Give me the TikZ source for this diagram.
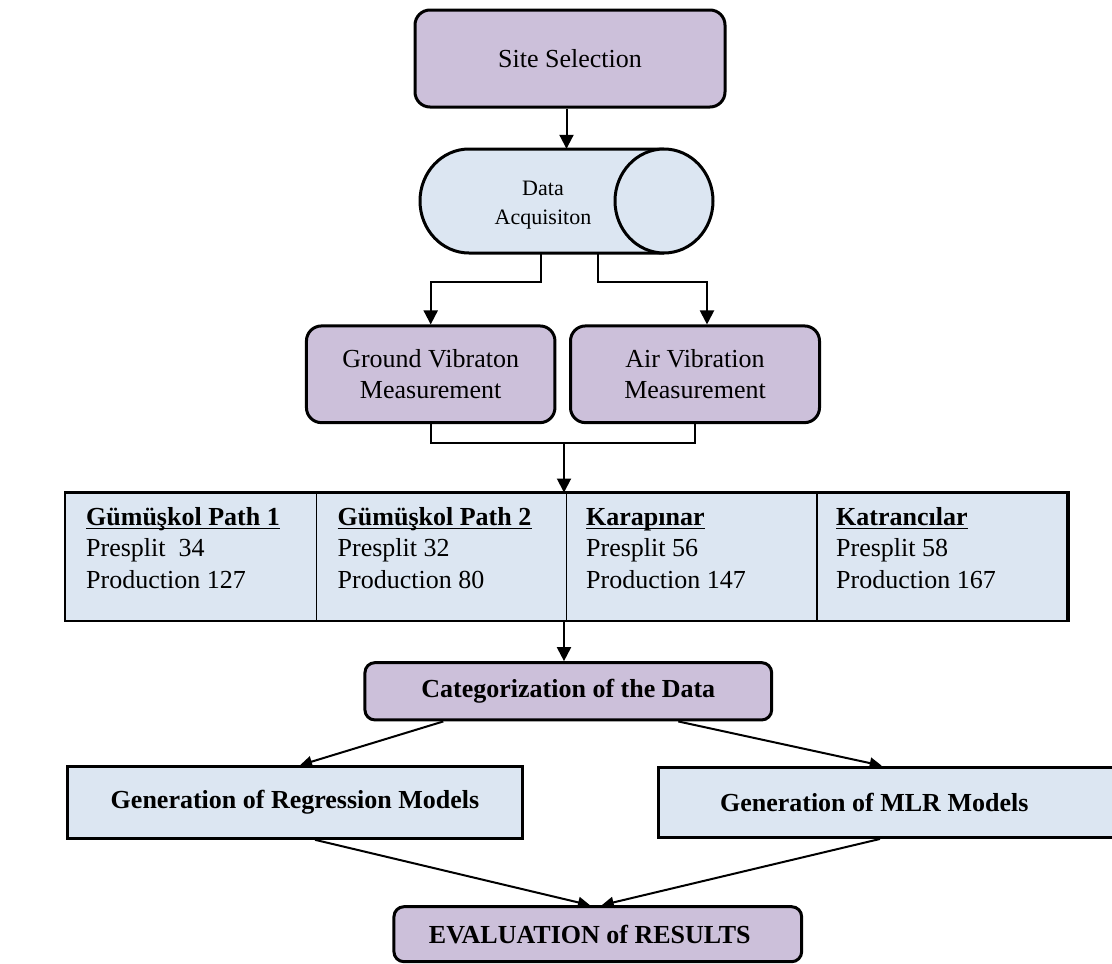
\documentclass[tikz,border=0pt]{standalone}
\usepackage{fontspec}
\setmainfont{Liberation Serif}
\usetikzlibrary{arrows.meta,calc}
\definecolor{lav}{HTML}{CCC0DA}
\definecolor{lblue}{HTML}{DCE6F2}
\tikzset{
  boxbase/.style={draw=black, line width=3pt, inner sep=0pt, align=center, font=\fontsize{26}{31}\selectfont},
  purplebox/.style={boxbase, fill=lav, rounded corners=15pt},
  purplesmall/.style={boxbase, fill=lav, rounded corners=10pt, font=\fontsize{26}{31}\selectfont\bfseries},
  bluebox/.style={boxbase, fill=lblue, font=\fontsize{26}{31}\selectfont\bfseries},
  conn/.style={line width=2pt, -{Triangle[length=14pt,width=14pt]}},
  connd/.style={line width=2pt, -{Triangle[length=12pt,width=11pt]}},
  plainline/.style={line width=2pt},
  cell/.style={anchor=base west, inner sep=0pt, font=\fontsize{26}{31}\selectfont},
  cellhead/.style={cell, font=\fontsize{26}{31}\selectfont\bfseries},
}
\begin{document}
\begin{tikzpicture}[x=1pt,y=-1pt]
\clip (0,0) rectangle (1112,964);
\fill[white] (0,0) rectangle (1112,964);

% Site selection
\node[purplebox, minimum width=310pt, minimum height=97pt] (site) at (570,58.5) {Site Selection};

% Data acquisition cylinder
\node[inner sep=0pt, minimum width=293pt, minimum height=104pt] (acq) at (566.5,201) {};
\filldraw[fill=lblue, line width=3pt] (664,149) -- (469,149)
  arc[start angle=270, end angle=90, x radius=49, y radius=52] -- (664,253);
\filldraw[fill=lblue, line width=3pt] (664,201) ellipse [x radius=49, y radius=52];
\node[font=\fontsize{22}{29}\selectfont, align=center, inner sep=0pt] (acqtext) at (543,205.5) {Data\\Acquisiton};

\draw[conn] (acq.north |- site.south) -- (acq.north);

% Measurements
\node[purplebox, minimum width=248.5pt, minimum height=96.7pt] (ground) at (430.7,374.3) {Ground Vibraton\\Measurement};
\node[purplebox, minimum width=249pt, minimum height=96.7pt] (air) at (695,374.3) {Air Vibration\\Measurement};

\draw[conn] ([xshift=-25.5pt]acq.south) -- ++(0,29) -| (ground.north);
\draw[conn] ([xshift=31.5pt]acq.south) -- ++(0,29) -| ([xshift=12pt]air.north);

% join
\coordinate (j) at (564,442.7);
\draw[plainline] (ground.south) -- (ground.south |- j) -- (air.south |- j) -- (air.south);

% Table
\node[fill=lblue, inner sep=0pt, minimum width=1003pt, minimum height=128pt] (tbl) at (566.5,556.7) {};
\draw[line width=2.2pt] (tbl.south west) rectangle (tbl.north east);
\draw[line width=4.5pt] ([yshift=1.1pt]tbl.north east) -- ([yshift=-1.1pt]tbl.south east);
\draw[line width=1.5pt] (316.7,492.7) -- (316.7,620.7);
\draw[line width=1.5pt] (566.3,492.7) -- (566.3,620.7);
\draw[line width=1.5pt] (817,492.7) -- (817,620.7);

\node[cellhead] (h1) at (86,525) {Gümüşkol Path 1};
\node[cell] (p1) at (86,556.5) {Presplit\ \ 34};
\node[cell] (q1) at (86,588) {Production 127};
\node[cellhead] (h2) at (337.5,525) {Gümüşkol Path 2};
\node[cell] (p2) at (337.5,556.5) {Presplit 32};
\node[cell] (q2) at (337.5,588) {Production 80};
\node[cellhead] (h3) at (586,525) {Karapınar};
\node[cell] (p3) at (586,556.5) {Presplit 56};
\node[cell] (q3) at (586,588) {Production 147};
\node[cellhead] (h4) at (836,525) {Katrancılar};
\node[cell] (p4) at (836,556.5) {Presplit 58};
\node[cell] (q4) at (836,588) {Production 167};
\foreach \h in {h1,h2,h3,h4}{
  \draw[line width=1.8pt] ([yshift=-3.5pt]\h.base west) -- ([yshift=-3.5pt]\h.base east);
}

\draw[conn] (j) -- (j |- tbl.north);

% Categorization
\node[purplesmall, minimum width=406.7pt, minimum height=57.3pt] (cat) at (568.3,691.3) {Categorization of the Data};
\draw[conn] (j |- tbl.south) -- (j |- cat.north);

% Models
\node[bluebox, minimum width=455.4pt, minimum height=71.6pt] (reg) at (295,802.5) {Generation of Regression Models};
\node[bluebox, minimum width=461.7pt, minimum height=70.3pt] (mlr) at (889.2,802.3) {\hspace*{-30pt}Generation of MLR Models};

\draw[connd] ([xshift=-125pt]cat.south) -- ([xshift=5pt]reg.north);
\draw[connd] ([xshift=110pt]cat.south) -- ([xshift=-7.5pt]mlr.north);

% Evaluation
\node[purplesmall, minimum width=407.7pt, minimum height=55pt] (eval) at (597.8,934.2) {\hspace*{-16pt}EVALUATION of RESULTS};

\draw[connd] ([xshift=20pt]reg.south) -- ([xshift=-7.8pt]eval.north);
\draw[connd] ([xshift=-9.2pt]mlr.south) -- ([xshift=3.9pt]eval.north);
\end{tikzpicture}
\end{document}
